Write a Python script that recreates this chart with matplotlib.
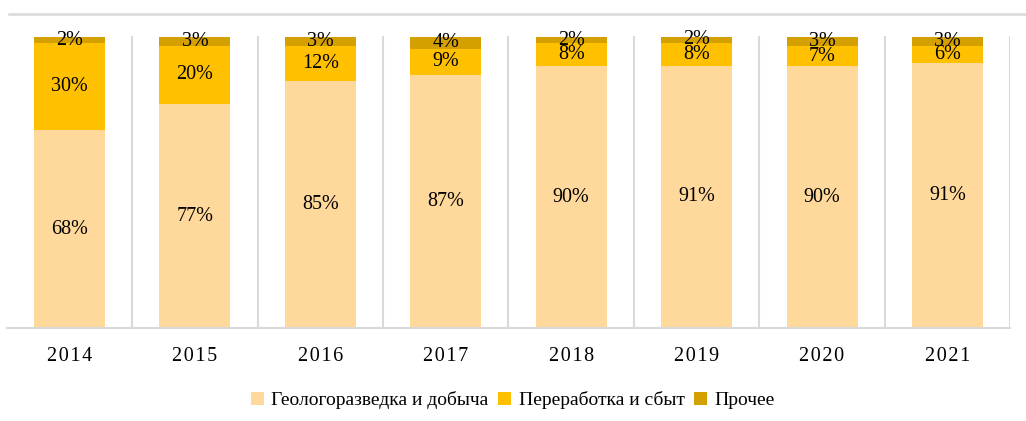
import numpy as np
import matplotlib.pyplot as plt
from matplotlib.lines import Line2D

plt.rcParams['font.family'] = ['Liberation Serif', 'DejaVu Serif']

years = ['2014', '2015', '2016', '2017', '2018', '2019', '2020', '2021']
explore = [68, 77, 85, 87, 90, 91, 90, 91]
refine = [30, 20, 12, 9, 8, 8, 7, 6]
other = [2, 3, 3, 4, 2, 2, 3, 3]
names = ['Геологоразведка и добыча', 'Переработка и сбыт', 'Прочее']
colors = ['#FFD89B', '#FFC000', '#D4A000']

data = np.array([explore, refine, other], dtype=float)
shares = data / data.sum(axis=0)

fig = plt.figure(figsize=(10.26, 4.21), dpi=100)
ax = fig.add_axes([0.0066, 0.2209, 0.978, 0.748])

x = np.arange(len(years))
bottom = np.zeros(len(years))
for i in range(3):
    ax.bar(x, shares[i], 0.566, bottom=bottom, color=colors[i], label=names[i], zorder=2)
    for j in range(len(years)):
        ax.text(x[j], bottom[j] + shares[i][j] / 2, f'{int(data[i][j])}%',
                ha='center', va='center', fontsize=14.5, zorder=3)
    bottom += shares[i]

# vertical separators between categories
for b in np.arange(0.5, len(years), 1.0):
    ax.plot([b, b], [0, 1], color='#D9D9D9', lw=1.5, zorder=1)

ax.set_xlim(-0.5, len(years) - 0.5)
ax.set_ylim(0, 1.0825)
for s in ['left', 'right', 'top']:
    ax.spines[s].set_visible(False)
ax.spines['bottom'].set_color('#D9D9D9')
ax.spines['bottom'].set_linewidth(1.5)
ax.set_yticks([])
ax.set_xticks(x)
ax.set_xticklabels(['\u200a'.join(y) for y in years], fontsize=14.5)
ax.tick_params(axis='x', length=0, pad=14)

# top border line
fig.add_artist(Line2D([9 / 1026, 1.0], [1 - 13.5 / 421] * 2, color='#D9D9D9', lw=1.8))

ax.legend(loc='center', bbox_to_anchor=(0.5, (421 - 400) / 421), bbox_transform=fig.transFigure,
          ncol=3, frameon=False, fontsize=14, handlelength=0.65, handleheight=0.65,
          handletextpad=0.4, columnspacing=0.5)

fig.savefig('out.png', dpi=100)
